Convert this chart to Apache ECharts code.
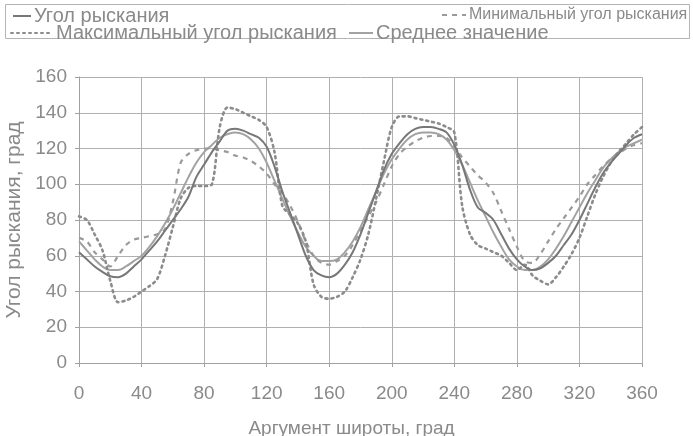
<!DOCTYPE html>
<html><head><meta charset="utf-8">
<script src="https://cdn.jsdelivr.net/npm/echarts@6/dist/echarts.min.js"></script>
<style>html,body{margin:0;padding:0;background:#fff}#c{width:693px;height:436px}</style>
</head><body><div id="c"></div>
<script>
const angles = [0,5,10,15,20,25,30,35,40,45,50,55,60,65,70,75,80,85,90,95,100,105,110,115,120,125,130,135,140,145,150,155,160,165,170,175,180,185,190,195,200,205,210,215,220,225,230,235,240,245,250,255,260,265,270,275,280,285,290,295,300,305,310,315,320,325,330,335,340,345,350,355,360];
const yawAngle = [62,58,54,51,48.5,48,50,54,58,63,68,74,80,86,93,104,111,118,124,130,131,130,128,126,121,110,96,84,72,60,52,49,48,50,55,62,72,84,96,108,117,123,128,131,132,132,131,129,122,111,97,87,84,80,72,64,58,54,52,53,56,60,66,72,80,89,98,106,112,117,122,126,128];
const minYaw = [70,68,62,58,54,60,66,69,70,71,72,75,90,112,117,119,120,120,119,118,116,115,113,110,106,100,95,88,79,68,60,56,55,57,60,66,74,82,90,100,110,117,121,124,126,127,127,126,121,115,110,105,101,95,85,75,65,57,56,61,68,75,81,87,93,100,105,110,114,117,120,122,123];
const maxYaw = [82,80,72,63,46,34,35,37,40,43,47,60,76,92,98,99,99,100,132,143,142,140,138,136,132,118,88,83,78,68,44,37,36,37,40,48,58,72,92,113,132,138,138,137,136,135,134,132,129,88,72,66,64,62,60,56,52,55,49,46,44,48,54,61,70,82,94,104,112,118,123,128,132];
const meanYaw = [68,63,58,54,52,52,54,57,60,65,71,78,86,95,104,112,118,122,126,128,129,128,125,120,112,102,92,82,73,65,60,57,57,58,62,68,76,86,96,106,114,120,125,128,129,129,128,125,119,111,101,91,82,73,65,58,54,52,52,54,58,64,71,79,87,95,102,109,114,118,121,123,125];
const xTicks = [0,40,80,120,160,200,240,280,320,360];

const names = ['Угол рыскания','Минимальный угол рыскания','Максимальный угол рыскания','Среднее значение'];
const pairs = arr => angles.map((a,i)=>[a,arr[i]]);
const textCol = '#8a8a8a';
const font = 'Liberation Sans, Arial, sans-serif';

const chart = echarts.init(document.getElementById('c'), null, {renderer:'canvas'});
const legendBase = (name, left, top, w, fs) => ({
  data:[name], left:left, top:top, padding:0, itemWidth:w, itemHeight:12, itemGap:0,
  itemStyle:{opacity:0},
  textStyle:{color:textCol, fontSize:fs, fontFamily:font, padding:[0,0,0,-2]},
  selectedMode:false
});
chart.setOption({
  animation:false,
  backgroundColor:'#fff',
  grid:{left:79, right:51, top:77, bottom:73, containLabel:false, outerBoundsMode:'none'},
  legend:[
    legendBase(names[0], 12, 6, 18, 20),
    legendBase(names[1], 441, 7, 24, 16),
    legendBase(names[2], 10, 23, 42, 20),
    legendBase(names[3], 348, 23, 24, 20)
  ],
  graphic:[{type:'rect', shape:{x:5.5,y:4.5,width:684,height:34}, style:{fill:'none', stroke:'#b4b4b4', lineWidth:1}, silent:true, z:-1}],
  xAxis:{
    type:'value', min:0, max:360, interval:40,
    name:'Аргумент широты, град', nameLocation:'middle', nameGap:56,
    nameTextStyle:{color:textCol, fontSize:19, fontFamily:font, padding:[0,18,0,0]},
    axisLine:{show:true, lineStyle:{color:'#a0a0a0', width:1}},
    axisTick:{show:true, length:4, lineStyle:{color:'#a0a0a0'}},
    axisLabel:{color:textCol, fontSize:19, fontFamily:font, margin:21, customValues:xTicks},
    splitLine:{show:true, lineStyle:{color:'#b0b0b0', width:1}}
  },
  yAxis:{
    type:'value', min:0, max:160, interval:20,
    name:'Угол рыскания, град', nameLocation:'middle', nameGap:53,
    nameTextStyle:{color:textCol, fontSize:21, fontFamily:font},
    axisLine:{show:true, lineStyle:{color:'#a0a0a0', width:1}},
    axisTick:{show:true, length:4, lineStyle:{color:'#a0a0a0'}},
    axisLabel:{color:textCol, fontSize:19, fontFamily:font, margin:12},
    splitLine:{show:true, lineStyle:{color:'#b0b0b0', width:1}}
  },
  series:[
    {name:names[0], type:'line', data:pairs(yawAngle), symbol:'none', smooth:0.3,
     lineStyle:{color:'#777', width:2}, itemStyle:{color:'#777'}, z:4},
    {name:names[1], type:'line', data:pairs(minYaw), symbol:'none', smooth:0.3,
     lineStyle:{color:'#9a9a9a', width:2.2, type:[5,5]}, itemStyle:{color:'#9a9a9a'}, z:2},
    {name:names[2], type:'line', data:pairs(maxYaw), symbol:'none', smooth:0.3,
     lineStyle:{color:'#8c8c8c', width:2.6, type:[2,4], cap:'round'}, itemStyle:{color:'#8c8c8c'}, z:3},
    {name:names[3], type:'line', data:pairs(meanYaw), symbol:'none', smooth:0.4,
     lineStyle:{color:'#a2a2a2', width:2}, itemStyle:{color:'#a2a2a2'}, z:1}
  ]
});
</script></body></html>
